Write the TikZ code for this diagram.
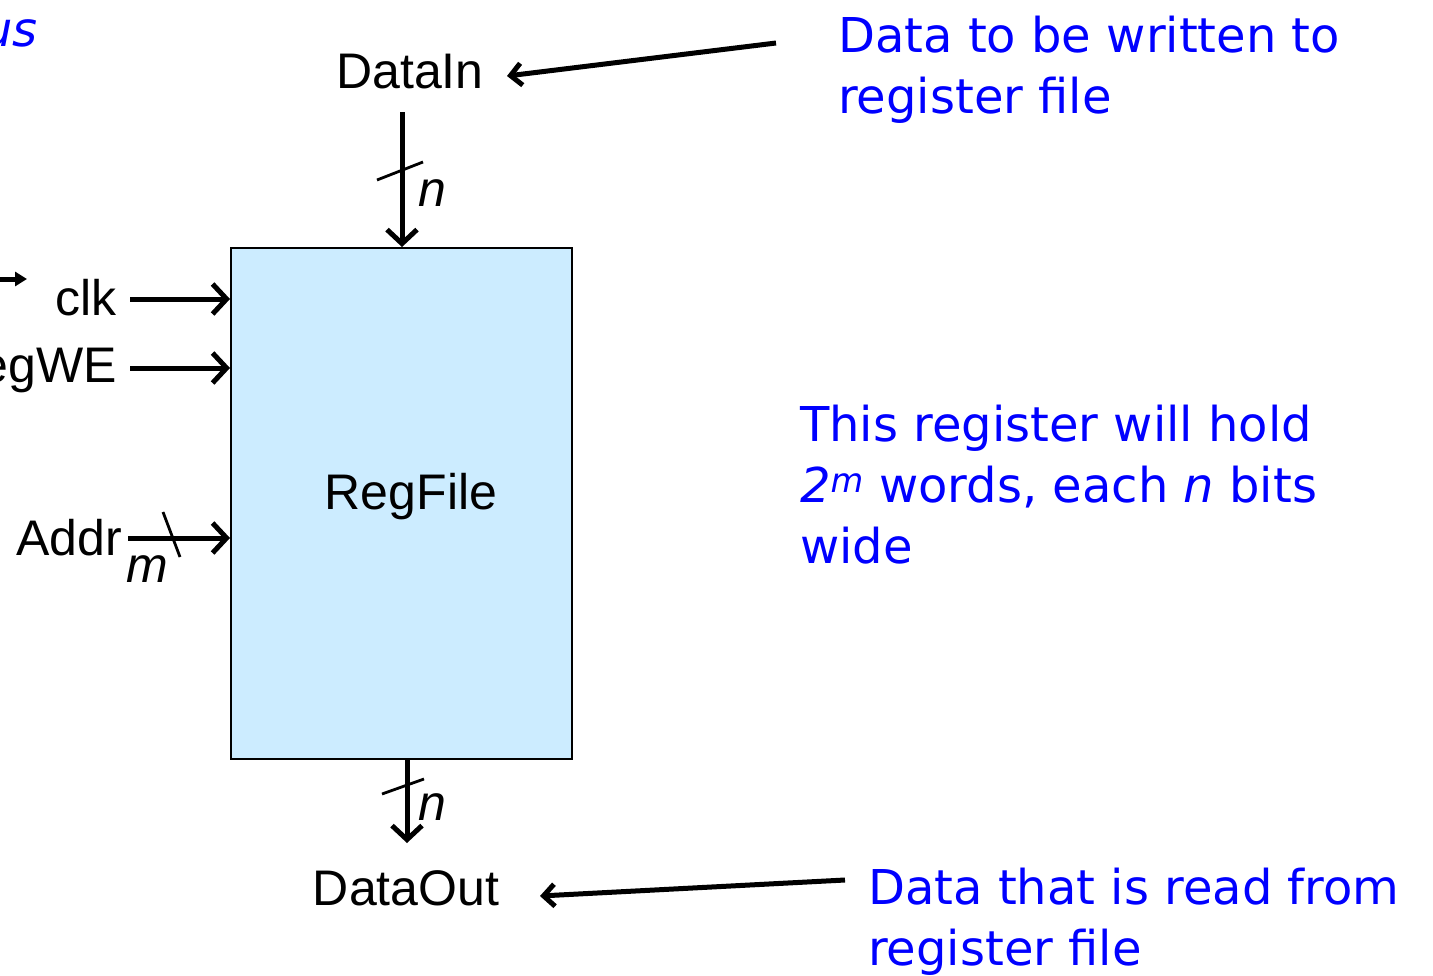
\documentclass[tikz,border=0pt]{standalone}
\usepackage{fontspec}
\setmainfont{Liberation Sans}
\newfontfamily\handfont{DejaVu Sans}
\usetikzlibrary{arrows.meta}
\definecolor{boxblue}{HTML}{CCECFF}
\definecolor{noteblue}{HTML}{0000FF}
\tikzset{
  lbl/.style={font=\fontsize{50}{56}\selectfont, inner sep=0pt},
  ilbl/.style={font=\itshape\fontsize{50}{56}\selectfont, inner sep=0pt},
  note/.style={font=\handfont\fontsize{48}{61}\selectfont, text=noteblue, inner sep=0pt, align=left},
  sig/.style={line width=5pt, -{Straight Barb[length=14pt,width=30pt,line width=5pt]}},
  ann/.style={line width=5pt, -{Straight Barb[length=11pt,width=22pt,line width=5pt]}},
  busmark/.style={line width=2.8pt},
}
\begin{document}
\begin{tikzpicture}[x=1pt,y=-1pt]
\useasboundingbox (0,0) rectangle (1433,975);
% main box
\node[draw, line width=2pt, fill=boxblue, minimum width=341pt, minimum height=511pt, inner sep=0pt] (rf) at (401.5,503.5) {};
\node[lbl] (rftxt) at (411,497) {RegFile};
% top left fragments
\node[note, font=\handfont\itshape\fontsize{48}{61}\selectfont, anchor=base east] (us) at (38,46) {us};
\coordinate (la) at (-10,279);
\coordinate (lb) at (27,279);
\draw[line width=5pt, -{Triangle[length=12pt,width=14pt]}] (la) -- (lb);
% DataIn
\node[lbl, anchor=base] (din) at (410,88) {DataIn};
\coordinate (dinS) at (402,112);
\coordinate (dinE) at (402,247);
\draw[sig] (dinS) -- (dinE);
\coordinate (s1a) at (377,180); \coordinate (s1b) at (423,162);
\draw[busmark] (s1a) -- (s1b);
\node[ilbl, anchor=base] (n1) at (432,206) {n};
% DataOut
\coordinate (doS) at (407,760);
\coordinate (doE) at (407,843);
\draw[sig] (doS) -- (doE);
\coordinate (s2a) at (382,794); \coordinate (s2b) at (424,779);
\draw[busmark] (s2a) -- (s2b);
\node[ilbl, anchor=base] (n2) at (432,820) {n};
\node[lbl, anchor=base] (dout) at (406,905) {DataOut};
% clk, RegWE, Addr
\node[lbl, anchor=base east] (clk) at (117,315) {clk};
\coordinate (clkS) at (130,299); \coordinate (clkE) at (230,299);
\draw[sig] (clkS) -- (clkE);
\node[lbl, anchor=base east] (we) at (117,382) {RegWE};
\coordinate (weS) at (130,368); \coordinate (weE) at (230,368);
\draw[sig] (weS) -- (weE);
\node[lbl, anchor=base east] (addr) at (122,555) {Addr};
\coordinate (adS) at (128,538); \coordinate (adE) at (230,538);
\draw[sig] (adS) -- (adE);
\coordinate (s3a) at (163,512); \coordinate (s3b) at (180,557);
\draw[busmark] (s3a) -- (s3b);
\node[ilbl, anchor=base] (m1) at (147,582) {m};
% notes (base anchor = last line's baseline)
\node[note, anchor=base west] (n-in) at (838,113) {Data to be written to\\register file};
\draw[ann] (776,43) coordinate (ainS) -- (507,76) coordinate (ainE);
\node[note, anchor=base west] (n-hold) at (800,563) {This register will hold\\{\itshape 2\textsuperscript{m}} words, each {\itshape n} bits\\wide};
\node[note, anchor=base west] (n-out) at (868,965) {Data that is read from\\register file};
\draw[ann] (845,880) coordinate (aoS) -- (540,896) coordinate (aoE);
\end{tikzpicture}
\end{document}
